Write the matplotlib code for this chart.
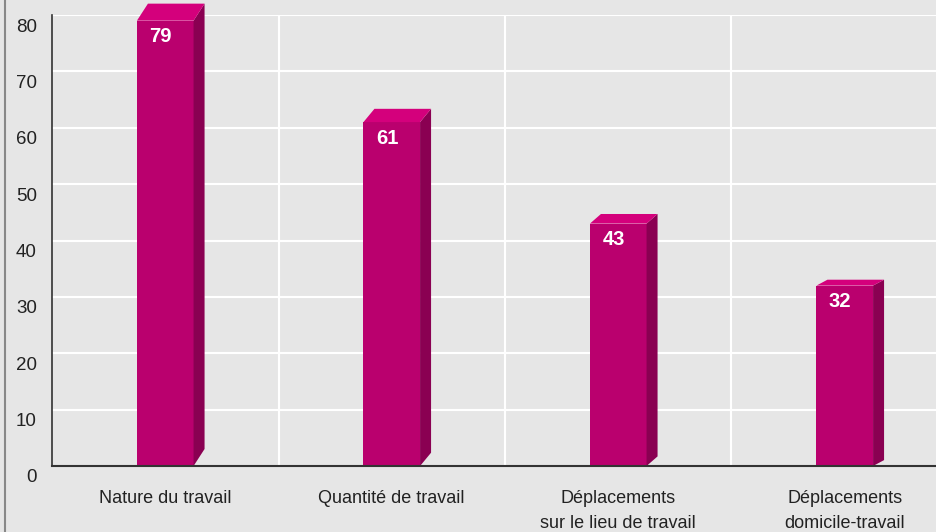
import numpy as np

import matplotlib
matplotlib.use("Agg")

import matplotlib.pyplot as plt
from matplotlib.patches import Polygon
from matplotlib.lines import Line2D
from matplotlib.transforms import ScaledTranslation

plt.rcParams['font.family'] = ['Liberation Sans Narrow', 'Liberation Sans', 'DejaVu Sans']

# Données
categories = ["Nature du travail", "Quantité de travail",
              "Déplacements\nsur le lieu de travail", "Déplacements\ndomicile-travail"]
valeurs = [79, 61, 43, 32]
yticks = [0, 10, 20, 30, 40, 50, 60, 70, 80]

face = "#BA006E"
cote = "#8A0052"
dessus = "#D4007C"
fond = "#E6E6E6"

fig = plt.figure(figsize=(9.36, 5.32), dpi=100, facecolor=fond)
ax = fig.add_axes([52/936, 66/532, 906/936, 451/532])
ax.set_facecolor(fond)

x = np.arange(len(categories))
w = 0.25
ax.set_xlim(-0.5, 3.5)
ax.set_ylim(0, 80)

# échelle px -> données
px_x = 1/226.5
px_y = 10/56.4

# Grille
for yv in yticks[1:]:
    ax.axhline(yv, color="white", lw=1.5, zorder=1)
for xv in [0.5, 1.5, 2.5]:
    ax.axvline(xv, color="white", lw=1.5, zorder=1)

# Barres en 3D (face, côté, dessus)
ax.bar(x, valeurs, width=w, color=face, zorder=3)
for i, v in enumerate(valeurs):
    dx = 11*px_x
    dy = (17 - 3.7*i)*px_y
    xr = x[i] + w/2
    xl = x[i] - w/2
    ax.add_patch(Polygon([(xr, 0), (xr+dx, dy), (xr+dx, v+dy), (xr, v)],
                         closed=True, color=cote, zorder=3, clip_on=False, lw=0))
    ax.add_patch(Polygon([(xl, v), (xr, v), (xr+dx, v+dy), (xl+dx, v+dy)],
                         closed=True, color=dessus, zorder=3, clip_on=False, lw=0))
    ax.text(x[i] - 0.02, v - 16*px_y, str(v), color="white", fontsize=14.5,
            fontweight="bold", ha="center", va="center", zorder=4)

# Axes
for s in ["top", "right"]:
    ax.spines[s].set_visible(False)
ax.spines["left"].set_color("#333333")
ax.spines["bottom"].set_color("#333333")
ax.spines["left"].set_linewidth(1.2)
ax.spines["bottom"].set_linewidth(1.5)
ax.spines["bottom"].set_zorder(5)

ax.set_yticks(yticks)
ax.tick_params(axis="y", length=0, pad=11, labelsize=13.5, labelcolor="#222222")
off = ScaledTranslation(0, -10/100, fig.dpi_scale_trans)
for lab in ax.get_yticklabels():
    lab.set_transform(lab.get_transform() + off)

ax.set_xticks(x)
ax.set_xticklabels(categories, fontsize=13, color="#222222", linespacing=1.62)
ax.tick_params(axis="x", length=0, pad=17)

# Cadre gauche
fig.add_artist(Line2D([5/936, 5/936], [0, 1], color="#888888", lw=1.5,
                      transform=fig.transFigure))

plt.savefig("out.png", dpi=100, facecolor=fond)
